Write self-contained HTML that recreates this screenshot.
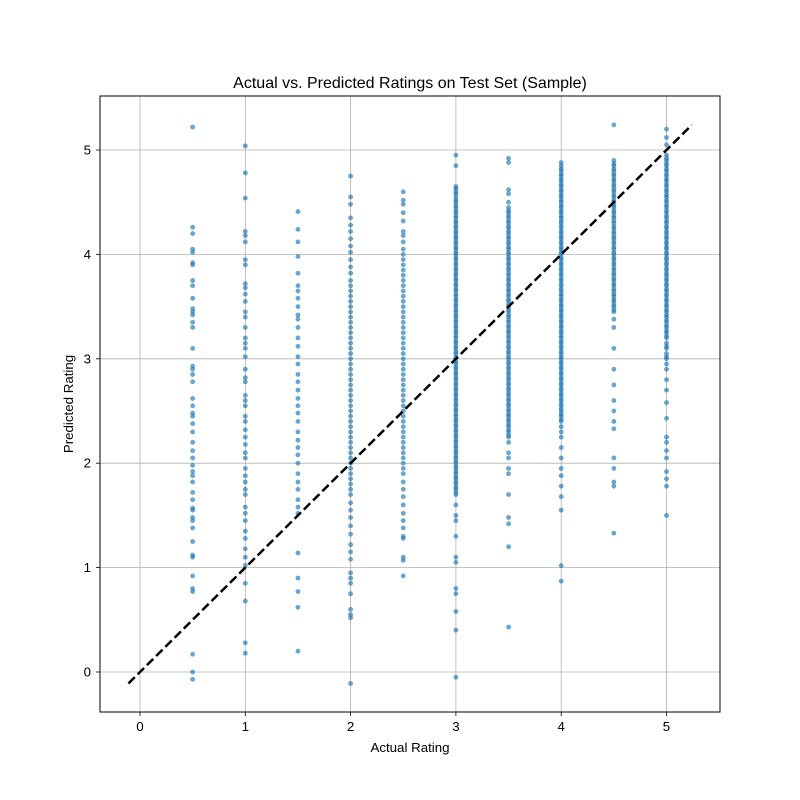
<!DOCTYPE html>
<html><head><meta charset="utf-8"><style>
html,body{margin:0;padding:0;background:#fff;}
svg{display:block;font-family:"Liberation Sans","DejaVu Sans",sans-serif;}
</style></head><body>
<svg id="chart" width="800" height="800" viewBox="0 0 800 800" xmlns="http://www.w3.org/2000/svg">
<rect width="800" height="800" fill="#fff"/>
<g id="grid"></g>
<g id="points"></g>
<g id="refline"></g>
<rect x="100" y="96" width="620" height="616" fill="none" stroke="#000" stroke-width="1"/>
<g id="ticks"></g>
<text x="410" y="88" text-anchor="middle" font-size="16">Actual vs. Predicted Ratings on Test Set (Sample)</text>
<text x="410" y="752" text-anchor="middle" font-size="13.3">Actual Rating</text>
<text x="0" y="0" transform="translate(73,404) rotate(-90)" text-anchor="middle" font-size="13.3">Predicted Rating</text>
</svg>
<script>
const xTicks=[0,1,2,3,4,5];
const yTicks=[0,1,2,3,4,5];
const actualLevels=[0.5,1,1.5,2,2.5,3,3.5,4,4.5,5];
const p05=[5.22,4.26,4.2,4.05,4.02,3.92,3.9,3.75,3.7,3.58,3.48,3.45,3.42,3.35,3.3,3.1,2.93,2.9,2.85,2.78,2.62,2.55,2.48,2.45,2.38,2.3,2.2,2.12,2.05,1.98,1.92,1.88,1.82,1.72,1.65,1.57,1.55,1.48,1.45,1.38,1.25,1.12,1.1,0.92,0.8,0.77,0.17,0.0,-0.07];
const p1=[5.04,4.78,4.54,4.22,4.18,4.12,3.95,3.9,3.72,3.68,3.62,3.55,3.45,3.4,3.3,3.2,3.15,3.1,3.02,2.9,2.82,2.78,2.65,2.6,2.55,2.45,2.4,2.32,2.25,2.18,2.1,2.05,1.95,1.88,1.82,1.75,1.7,1.58,1.52,1.45,1.35,1.28,1.18,1.1,1.02,0.85,0.68,0.28,0.18];
const p15=[4.41,4.24,4.12,3.98,3.82,3.7,3.65,3.58,3.5,3.42,3.38,3.3,3.2,3.12,3.02,2.95,2.85,2.78,2.7,2.62,2.55,2.48,2.4,2.3,2.22,2.15,2.08,2.0,1.9,1.82,1.75,1.65,1.58,1.52,1.14,0.9,0.77,0.62,0.2];
const p2=[4.75,4.55,4.48,4.35,4.28,4.22,4.15,4.08,4.02,3.95,3.88,3.82,3.75,3.7,3.65,3.6,3.55,3.5,3.45,3.4,3.35,3.3,3.25,3.2,3.15,3.1,3.05,3.0,2.95,2.9,2.85,2.8,2.75,2.7,2.65,2.6,2.55,2.5,2.45,2.4,2.35,2.3,2.25,2.2,2.15,2.1,2.05,2.0,1.95,1.9,1.85,1.8,1.75,1.7,1.62,1.55,1.48,1.4,1.32,1.22,1.15,1.08,0.95,0.9,0.85,0.75,0.6,0.55,0.52,-0.11];
const p25=[4.6,4.52,4.48,4.4,4.32,4.22,4.18,4.12,4.05,4.0,3.95,3.9,3.85,3.8,3.75,3.7,3.65,3.6,3.55,3.5,3.45,3.4,3.35,3.3,3.25,3.2,3.15,3.1,3.05,3.0,2.95,2.9,2.85,2.8,2.75,2.7,2.65,2.6,2.55,2.5,2.45,2.4,2.35,2.3,2.25,2.2,2.15,2.1,2.05,2.0,1.95,1.9,1.82,1.75,1.68,1.6,1.52,1.45,1.38,1.3,1.28,1.1,1.07,0.92];
const p3=[4.95,4.85,4.65,4.6,4.55,4.5,4.45,4.4,4.35,4.3,4.25,4.2,4.15,4.1,4.05,4.0,3.95,3.9,3.85,3.8,3.75,3.7,3.65,3.6,3.55,3.5,3.45,3.4,3.35,3.3,3.25,3.2,3.15,3.1,3.05,3.0,2.95,2.9,2.85,2.8,2.75,2.7,2.65,2.6,2.55,2.5,2.45,2.4,2.35,2.3,2.25,2.2,2.15,2.1,2.05,2.0,1.95,1.9,1.85,1.8,1.75,1.7,1.6,1.5,1.45,1.3,1.1,1.05,0.8,0.75,0.58,0.4,-0.05,
4.63,4.58,4.52,4.47,4.42,4.37,4.32,4.27,4.22,4.17,4.12,4.07,4.02,3.97,3.92,3.87,3.82,3.77,3.72,3.67,3.62,3.57,3.52,3.47,3.42,3.37,3.32,3.27,3.22,3.17,3.12,3.07,3.02,2.97,2.92,2.87,2.82,2.77,2.72,2.67,2.62,2.57,2.52,2.47,2.42,2.37,2.32,2.27,2.22,2.17,2.12,2.07,2.02,1.97,1.92,1.87,1.82,1.77,1.72];
const p35=[4.92,4.88,4.62,4.58,4.5,4.45,4.4,4.35,4.3,4.25,4.2,4.15,4.1,4.05,4.0,3.95,3.9,3.85,3.8,3.75,3.7,3.65,3.6,3.55,3.5,3.45,3.4,3.35,3.3,3.25,3.2,3.15,3.1,3.05,3.0,2.95,2.9,2.85,2.8,2.75,2.7,2.65,2.6,2.55,2.5,2.45,2.4,2.35,2.3,2.25,2.2,2.1,2.05,1.95,1.9,1.7,1.48,1.42,1.2,0.43,
4.42,4.37,4.32,4.27,4.22,4.17,4.12,4.07,4.02,3.97,3.92,3.87,3.82,3.77,3.72,3.67,3.62,3.57,3.52,3.47,3.42,3.37,3.32,3.27,3.22,3.17,3.12,3.07,3.02,2.97,2.92,2.87,2.82,2.77,2.72,2.67,2.62,2.57,2.52,2.47,2.42,2.37,2.32,2.27];
const p4=[4.88,4.85,4.8,4.75,4.7,4.65,4.6,4.55,4.5,4.45,4.4,4.35,4.3,4.25,4.2,4.15,4.1,4.05,4.0,3.95,3.9,3.85,3.8,3.75,3.7,3.65,3.6,3.55,3.5,3.45,3.4,3.35,3.3,3.25,3.2,3.15,3.1,3.05,3.0,2.95,2.9,2.85,2.8,2.75,2.7,2.65,2.6,2.55,2.5,2.45,2.4,2.35,2.3,2.25,2.15,2.05,1.95,1.88,1.78,1.68,1.55,1.02,0.87,
4.82,4.77,4.72,4.67,4.62,4.57,4.52,4.47,4.42,4.37,4.32,4.27,4.22,4.17,4.12,4.07,4.02,3.97,3.92,3.87,3.82,3.77,3.72,3.67,3.62,3.57,3.52,3.47,3.42,3.37,3.32,3.27,3.22,3.17,3.12,3.07,3.02,2.97,2.92,2.87,2.82,2.77,2.72,2.67,2.62,2.57,2.52,2.47,2.42];
const p45=[5.24,4.9,4.85,4.8,4.75,4.7,4.65,4.6,4.55,4.5,4.45,4.4,4.35,4.3,4.25,4.2,4.15,4.1,4.05,4.0,3.95,3.9,3.85,3.8,3.75,3.7,3.65,3.6,3.55,3.5,3.45,3.38,3.3,3.1,2.9,2.75,2.6,2.5,2.4,2.33,2.05,1.95,1.82,1.78,1.33,
4.87,4.82,4.77,4.72,4.67,4.62,4.57,4.52,4.47,4.42,4.37,4.32,4.27,4.22,4.17,4.12,4.07,4.02,3.97,3.92,3.87,3.82,3.77,3.72,3.67,3.62,3.57,3.52,3.47];
const p5=[5.2,5.12,5.05,4.95,4.9,4.85,4.8,4.75,4.7,4.65,4.6,4.55,4.5,4.45,4.4,4.35,4.3,4.25,4.2,4.15,4.1,4.05,4.0,3.95,3.9,3.85,3.8,3.75,3.7,3.65,3.6,3.55,3.5,3.45,3.4,3.35,3.3,3.25,3.2,3.15,3.1,3.05,3.0,2.95,2.9,2.8,2.7,2.58,2.43,2.25,2.2,2.12,2.05,1.92,1.85,1.78,1.5,
4.92,4.87,4.82,4.77,4.72,4.67,4.62,4.57,4.52,4.47,4.42,4.37,4.32,4.27,4.22,4.17,4.12,4.07,4.02,3.97,3.92,3.87,3.82,3.77,3.72,3.67,3.62,3.57,3.52,3.47,3.42,3.37,3.32,3.27,3.22,3.12,3.02];
const predicted=[p05,p1,p15,p2,p25,p3,p35,p4,p45,p5];

const NS="http://www.w3.org/2000/svg";
const X=v=>140+v*105.3;
const Y=v=>672-v*104.4;
function mk(tag,attrs,parent){const e=document.createElementNS(NS,tag);for(const k in attrs)e.setAttribute(k,attrs[k]);parent.appendChild(e);return e;}
const grid=document.getElementById('grid'),ticks=document.getElementById('ticks');
xTicks.forEach(t=>{
  const l=mk('line',{x1:X(t),x2:X(t),y1:96,y2:712,stroke:'#b0b0b0','stroke-width':0.8},grid);
  
  
  mk('line',{x1:X(t),x2:X(t),y1:712,y2:716,stroke:'#000','stroke-width':0.8},ticks);
  const tx=mk('text',{x:X(t),y:731,'text-anchor':'middle','font-size':13.3},ticks);
  tx.textContent=t;
  
  
});
yTicks.forEach(t=>{
  const l=mk('line',{x1:100,x2:720,y1:Y(t),y2:Y(t),stroke:'#b0b0b0','stroke-width':0.8},grid);
  
  
  mk('line',{x1:96,x2:100,y1:Y(t),y2:Y(t),stroke:'#000','stroke-width':0.8},ticks);
  const tx=mk('text',{x:91,y:Y(t)+4.5,'text-anchor':'end','font-size':13.3},ticks);
  tx.textContent=t;
  
  
});
const pts=document.getElementById('points');
let mn=Infinity,mx=-Infinity;
actualLevels.forEach((a,i)=>{
  mn=Math.min(mn,a);mx=Math.max(mx,a);
  predicted[i].forEach(p=>{
    mn=Math.min(mn,p);mx=Math.max(mx,p);
    const c=mk('circle',{cx:X(a),cy:Y(p),r:2.2,fill:'#1f77b4','fill-opacity':0.65,stroke:'#1f77b4','stroke-opacity':0.65,'stroke-width':0.4},pts);
    
    
  });
});
const ln=mk('line',{x1:X(mn),y1:Y(mn),x2:X(mx),y2:Y(mx),stroke:'#000','stroke-width':2.5,'stroke-dasharray':'9,4'},document.getElementById('refline'));


</script>
</body></html>
